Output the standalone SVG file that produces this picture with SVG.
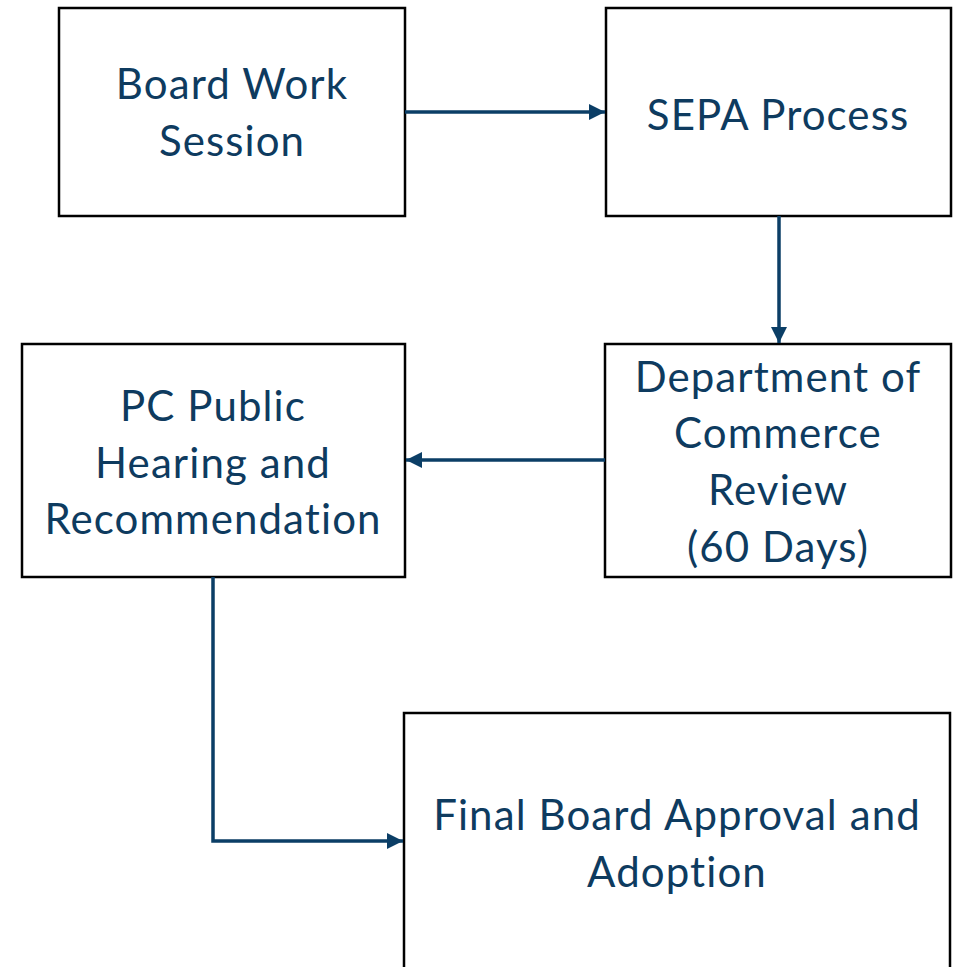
<svg xmlns="http://www.w3.org/2000/svg" width="957" height="967" viewBox="0 0 957 967">
<style>
.box{fill:#fff;stroke:#000;stroke-width:2.5}
.t{font-family:Lato,"Open Sans","Noto Sans",sans-serif;font-size:42px;letter-spacing:1.1px;fill:#0E3B5F;text-anchor:middle}
.c{fill:none;stroke:#0B3E66;stroke-width:3.5;stroke-linejoin:miter}
</style>
<defs>
<marker id="ah" markerUnits="userSpaceOnUse" markerWidth="17" markerHeight="17" refX="16" refY="8" orient="auto">
<path d="M0,0 L16,8 L0,16 z" fill="#0B3E66"/>
</marker>
</defs>
<rect width="957" height="967" fill="#fff"/>
<g id="board-work-session">
<rect class="box" x="59" y="8" width="346" height="208"/>
<text class="t" x="232" y="99">Board Work</text>
<text class="t" x="232" y="156">Session</text>
</g>
<g id="sepa-process">
<rect class="box" x="606" y="8" width="345" height="208"/>
<text class="t" x="778" y="130">SEPA Process</text>
</g>
<g id="dept-commerce">
<rect class="box" x="605" y="344" width="346" height="233"/>
<text class="t" x="778" y="392">Department of</text>
<text class="t" x="778" y="448">Commerce</text>
<text class="t" x="778" y="505">Review</text>
<text class="t" x="778" y="562">(60 Days)</text>
</g>
<g id="pc-public-hearing">
<rect class="box" x="22" y="344" width="383" height="233"/>
<text class="t" x="213" y="421">PC Public</text>
<text class="t" x="213" y="478">Hearing and</text>
<text class="t" x="213" y="534">Recommendation</text>
</g>
<g id="final-board-approval">
<rect class="box" x="404" y="713" width="546" height="270"/>
<text class="t" x="677" y="830">Final Board Approval and</text>
<text class="t" x="677" y="887">Adoption</text>
</g>
<g id="connectors">
<path class="c" d="M405,112 L605,112" marker-end="url(#ah)"/>
<path class="c" d="M779,216 L779,343" marker-end="url(#ah)"/>
<path class="c" d="M605,460 L406,460" marker-end="url(#ah)"/>
<path class="c" d="M213,577 L213,841 L403,841" marker-end="url(#ah)"/>
</g>
</svg>
